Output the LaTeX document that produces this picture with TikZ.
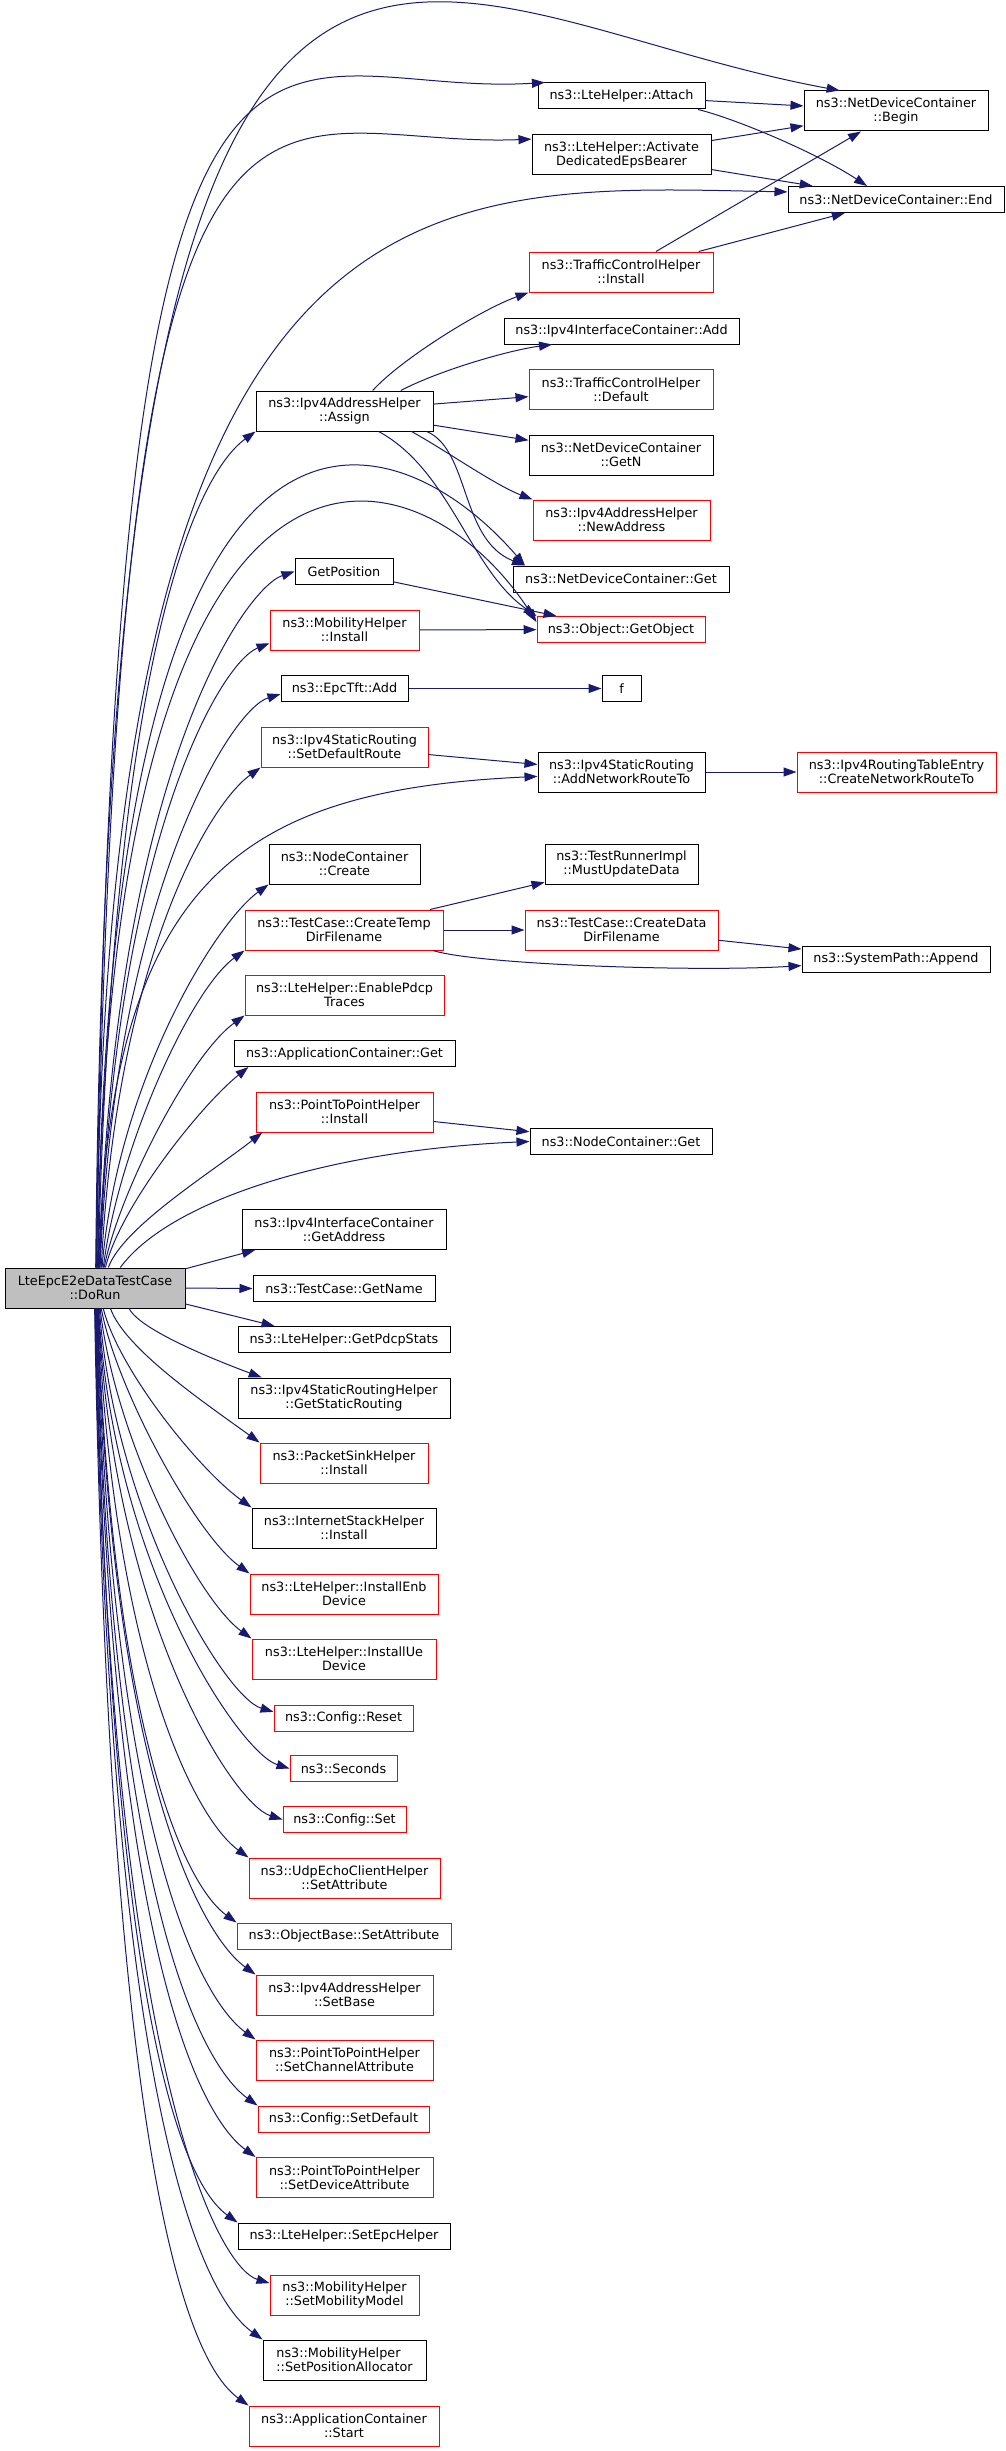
\documentclass[tikz,border=0pt]{standalone}
\usepackage{fontspec}
\setmainfont{DejaVu Sans}
\usetikzlibrary{arrows.meta}
\definecolor{callblue}{HTML}{191970}
\definecolor{rootgray}{HTML}{BFBFBF}

\begin{document}
\begin{tikzpicture}[x=1pt, y=1pt,
    fn/.style={rectangle, draw=black, fill=white, line width=1pt, align=center,
      font=\fontsize{12.8}{14}\selectfont, inner xsep=3pt, inner ysep=1pt, minimum height=26pt},
    fnred/.style={fn, draw=red},
    fnroot/.style={fn, fill=rootgray},
    tall/.style={minimum height=40pt},
    call/.style={draw=callblue, line width=1pt, -{Triangle[length=13pt, width=9pt]}}]
    \useasboundingbox (0,0) rectangle (1005,-2451);
    % caller
    \node[fnroot, tall, minimum width=180pt] (root) at (95,-1288) {LteEpcE2eDataTestCase\\::DoRun};

    % right columns
    \node[fn, minimum width=184pt, tall] (begin) at (896,-111) {ns3::NetDeviceContainer\\::Begin};
    \node[fn, minimum width=216pt] (end) at (896,-199.5) {ns3::NetDeviceContainer::End};
    \node[fnred, minimum width=199pt, tall] (createroute) at (896.5,-772) {ns3::Ipv4RoutingTableEntry\\::CreateNetworkRouteTo};
    \node[fn, minimum width=188pt] (append) at (896,-959) {ns3::SystemPath::Append};

    \node[fn, minimum width=167pt] (attach) at (621.5,-96) {ns3::LteHelper::Attach};
    \node[fn, minimum width=179pt, tall] (activate) at (621.5,-155) {ns3::LteHelper::Activate\\DedicatedEpsBearer};
    \node[fnred, minimum width=184pt, tall] (tcinstall) at (621,-272) {ns3::TrafficControlHelper\\::Install};
    \node[fn, minimum width=235pt] (icadd) at (621.5,-331) {ns3::Ipv4InterfaceContainer::Add};
    \node[fnred, minimum width=184pt, tall] (tcdefault) at (621,-389.5) {ns3::TrafficControlHelper\\::Default};
    \node[fn, minimum width=184pt, tall] (getn) at (621,-455) {ns3::NetDeviceContainer\\::GetN};
    \node[fnred, minimum width=177pt, tall] (newaddress) at (621.5,-520) {ns3::Ipv4AddressHelper\\::NewAddress};
    \node[fn, minimum width=216pt] (ndcget) at (621,-579) {ns3::NetDeviceContainer::Get};
    \node[fnred, minimum width=168pt] (getobject) at (621,-629.5) {ns3::Object::GetObject};
    \node[fn, minimum width=39pt] (f) at (621.5,-688.5) {f};
    \node[fn, minimum width=167pt, tall] (addroute) at (621.5,-772) {ns3::Ipv4StaticRouting\\::AddNetworkRouteTo};
    \node[fn, minimum width=153pt, tall] (mustupdate) at (621.5,-864) {ns3::TestRunnerImpl\\::MustUpdateData};
    \node[fnred, minimum width=193pt, tall] (createdata) at (621.5,-930) {ns3::TestCase::CreateData\\DirFilename};
    \node[fn, minimum width=182pt] (ncget) at (621,-1141.5) {ns3::NodeContainer::Get};

    % callees
    \node[fn, minimum width=177pt, tall] (assign) at (344.5,-411) {ns3::Ipv4AddressHelper\\::Assign};
    \node[fn, minimum width=98pt] (getposition) at (344,-571.5) {GetPosition};
    \node[fnred, minimum width=149pt, tall] (mobinstall) at (344.5,-630) {ns3::MobilityHelper\\::Install};
    \node[fn, minimum width=127pt] (epcadd) at (344.5,-688.5) {ns3::EpcTft::Add};
    \node[fnred, minimum width=167pt, tall] (setdefroute) at (344.5,-747) {ns3::Ipv4StaticRouting\\::SetDefaultRoute};
    \node[fn, minimum width=151pt, tall] (nccreate) at (344.5,-864) {ns3::NodeContainer\\::Create};
    \node[fnred, minimum width=198pt, tall] (createtemp) at (344,-930) {ns3::TestCase::CreateTemp\\DirFilename};
    \node[fnred, minimum width=199pt, tall] (enablepdcp) at (344.5,-995) {ns3::LteHelper::EnablePdcp\\Traces};
    \node[fn, minimum width=221pt] (appget) at (344.5,-1053.5) {ns3::ApplicationContainer::Get};
    \node[fnred, minimum width=177pt, tall] (p2pinstall) at (344.5,-1112) {ns3::PointToPointHelper\\::Install};
    \node[fn, minimum width=204pt, tall] (getaddress) at (344,-1229.5) {ns3::Ipv4InterfaceContainer\\::GetAddress};
    \node[fn, minimum width=182pt] (getname) at (344,-1288.5) {ns3::TestCase::GetName};
    \node[fn, minimum width=212pt] (getpdcp) at (344,-1339.5) {ns3::LteHelper::GetPdcpStats};
    \node[fn, minimum width=212pt, tall] (getstatic) at (344,-1398) {ns3::Ipv4StaticRoutingHelper\\::GetStaticRouting};
    \node[fnred, minimum width=168pt, tall] (packetsink) at (344,-1463) {ns3::PacketSinkHelper\\::Install};
    \node[fn, minimum width=184pt, tall] (internetstack) at (344,-1528) {ns3::InternetStackHelper\\::Install};
    \node[fnred, minimum width=188pt, tall] (installenb) at (344,-1594) {ns3::LteHelper::InstallEnb\\Device};
    \node[fnred, minimum width=184pt, tall] (installue) at (344,-1659) {ns3::LteHelper::InstallUe\\Device};
    \node[fnred, minimum width=139pt] (reset) at (343.5,-1718) {ns3::Config::Reset};
    \node[fnred, minimum width=107pt] (seconds) at (343.5,-1768.5) {ns3::Seconds};
    \node[fnred, minimum width=123pt] (cfgset) at (344.5,-1819.5) {ns3::Config::Set};
    \node[fnred, minimum width=191pt, tall] (udpecho) at (344.5,-1878) {ns3::UdpEchoClientHelper\\::SetAttribute};
    \node[fnred, minimum width=214pt] (objattr) at (344,-1936) {ns3::ObjectBase::SetAttribute};
    \node[fnred, minimum width=177pt, tall] (setbase) at (344.5,-1995) {ns3::Ipv4AddressHelper\\::SetBase};
    \node[fnred, minimum width=177pt, tall] (setchannel) at (344.5,-2060) {ns3::PointToPointHelper\\::SetChannelAttribute};
    \node[fnred, minimum width=171pt] (setdefault) at (343.5,-2119) {ns3::Config::SetDefault};
    \node[fnred, minimum width=177pt, tall] (setdevice) at (344.5,-2177.5) {ns3::PointToPointHelper\\::SetDeviceAttribute};
    \node[fn, minimum width=212pt] (setepc) at (344,-2236) {ns3::LteHelper::SetEpcHelper};
    \node[fnred, minimum width=149pt, tall] (setmobility) at (344.5,-2295) {ns3::MobilityHelper\\::SetMobilityModel};
    \node[fn, minimum width=163pt, tall, align=left] (setposalloc) at (344.5,-2360) {ns3::MobilityHelper\\::SetPositionAllocator};
    \node[fnred, minimum width=190pt, tall] (appstart) at (344,-2426) {ns3::ApplicationContainer\\::Start};

    % calls going up from the caller
    \draw[call] (root.88) .. controls (110,340) and (400,-10) .. (begin.160);
    \draw[call] (root.87) .. controls (115,150) and (260,-100) .. (attach.170);
    \draw[call] (root.86) .. controls (118,60) and (255,-150) .. (activate.170);
    \draw[call] (root.85) .. controls (105,-150) and (430,-185) .. (end.176);
    \draw[call] (root.83) .. controls (110,-300) and (400,-420) .. (ndcget.172);
    \draw[call] (root.82) .. controls (108,-350) and (420,-440) .. (getobject.175);
    \draw[call] (root.81) .. controls (113,-631) and (201,-471) .. (assign.south west);
    \draw[call] (root.80) .. controls (110,-880) and (240,-790) .. (addroute.-177);
    \draw[call] (root.78) .. controls (114,-771) and (245,-588) .. (getposition.west);
    \draw[call] (root.77) .. controls (114,-843) and (220,-663) .. (mobinstall.-170);
    \draw[call] (root.76) .. controls (115,-894) and (231,-709) .. (epcadd.-175);
    \draw[call] (root.73) .. controls (116,-967) and (206,-807) .. (setdefroute.south west);
    \draw[call] (root.71) .. controls (117,-1084) and (214,-924) .. (nccreate.south west);
    \draw[call] (root.68) .. controls (118,-1150) and (190,-990) .. (createtemp.south west);
    \draw[call] (root.66) .. controls (119,-1192) and (190,-1055) .. (enablepdcp.south west);
    \draw[call] (root.63) .. controls (120,-1207) and (200,-1106) .. (appget.-172);
    \draw[call] (root.57) .. controls (123,-1227) and (212,-1172) .. (p2pinstall.-166);
    \draw[call] (root.39) .. controls (170,-1200) and (330,-1150) .. (ncget.west);
    \path (root.12) edge[call] (getaddress.-167);
    \path (root.east) edge[call] (getname.west);

    % calls going down from the caller
    \path (root.-10) edge[call] (getpdcp.169);
    \draw[call] (root.-31) .. controls (140,-1330) and (215,-1360) .. (getstatic.166);
    \draw[call] (root.-53) .. controls (125,-1349) and (205,-1403) .. (packetsink.north west);
    \draw[call] (root.-68) .. controls (118,-1368) and (197,-1468) .. (internetstack.north west);
    \draw[call] (root.-73) .. controls (116,-1388) and (195,-1534) .. (installenb.north west);
    \draw[call] (root.-76) .. controls (115,-1439) and (197,-1599) .. (installue.north west);
    \draw[call] (root.-78) .. controls (114,-1512) and (224,-1697) .. (reset.175);
    \draw[call] (root.-80) .. controls (113,-1568) and (240,-1753) .. (seconds.west);
    \draw[call] (root.-81) .. controls (113,-1619) and (233,-1804) .. (cfgset.west);
    \draw[call] (root.-82) .. controls (113,-1658) and (194,-1818) .. (udpecho.north west);
    \draw[call] (root.-83) .. controls (112,-1723) and (182,-1883) .. (objattr.north west);
    \draw[call] (root.-84) .. controls (112,-1775) and (201,-1935) .. (setbase.north west);
    \draw[call] (root.-85) .. controls (112,-1840) and (201,-2000) .. (setchannel.north west);
    \draw[call] (root.-86) .. controls (111,-1906) and (203,-2066) .. (setdefault.north west);
    \draw[call] (root.-87) .. controls (111,-1957) and (201,-2117) .. (setdevice.north west);
    \draw[call] (root.-88) .. controls (111,-2023) and (183,-2183) .. (setepc.north west);
    \draw[call] (root.-89) .. controls (110,-2083) and (220,-2268) .. (setmobility.171);
    \draw[call] (root.-90) .. controls (110,-2140) and (208,-2300) .. (setposalloc.north west);
    \draw[call] (root.-91) .. controls (110,-2206) and (194,-2366) .. (appstart.north west);

    % calls between callees
    \path (attach) edge[call] (begin);
    \draw[call] (attach.-10) .. controls (740,-120) and (820,-155) .. (end.155);
    \path (activate) edge[call] (begin);
    \path (activate) edge[call] (end);
    \path (tcinstall) edge[call] (begin);
    \path (tcinstall) edge[call] (end);
    \draw[call] (assign.36) .. controls (400,-360) and (480,-310) .. (tcinstall.south west);
    \draw[call] (assign.20) .. controls (440,-370) and (510,-350) .. (icadd.-169);
    \path (assign) edge[call] (tcdefault);
    \path (assign) edge[call] (getn);
    \draw[call] (assign.-17) .. controls (445,-450) and (495,-485) .. (newaddress.north west);
    \draw[call] (assign.-14) .. controls (470,-450) and (460,-540) .. (ndcget.172);
    \draw[call] (assign.-31) .. controls (450,-470) and (470,-570) .. (getobject.north west);
    \path (getposition) edge[call] (getobject);
    \path (mobinstall) edge[call] (getobject);
    \path (epcadd) edge[call] (f);
    \path (setdefroute) edge[call] (addroute);
    \path (addroute) edge[call] (createroute);
    \path (createtemp) edge[call] (mustupdate);
    \path (createtemp) edge[call] (createdata);
    \draw[call] (createtemp.-13) .. controls (480,-965) and (700,-972) .. (append.-176);
    \path (createdata) edge[call] (append);
    \path (p2pinstall) edge[call] (ncget);
\end{tikzpicture}
\end{document}
